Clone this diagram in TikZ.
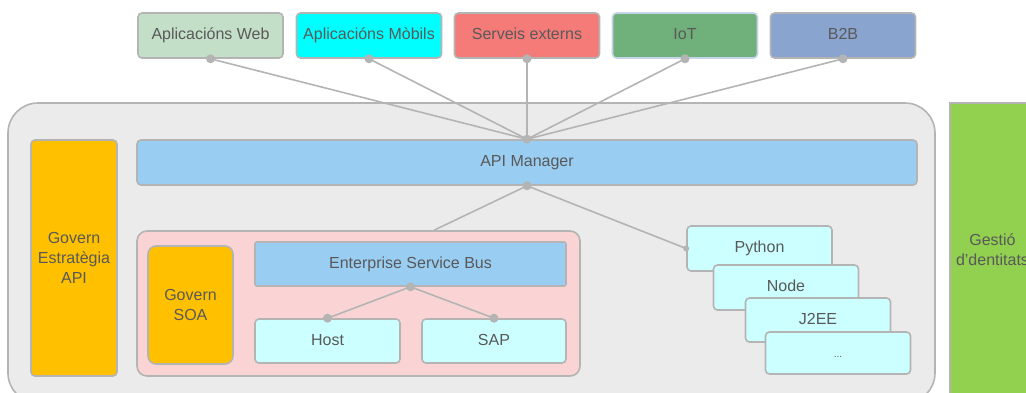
\documentclass[tikz,border=0pt]{standalone}
\usepackage{fontspec}
\setmainfont{Liberation Sans}
\usetikzlibrary{calc}

\definecolor{textgray}{HTML}{595959}
\definecolor{edgegray}{HTML}{B4B4B4}
\definecolor{webgreen}{HTML}{C4DFC8}
\definecolor{mobcyan}{HTML}{00FFFF}
\definecolor{extred}{HTML}{F47B78}
\definecolor{iotgreen}{HTML}{70B07A}
\definecolor{iotedge}{HTML}{C6D4EA}
\definecolor{btwoblue}{HTML}{89A4CE}
\definecolor{apiblue}{HTML}{99CDF2}
\definecolor{platgray}{HTML}{EBEBEB}
\definecolor{soapink}{HTML}{FAD4D4}
\definecolor{govorange}{HTML}{FFC000}
\definecolor{techcyan}{HTML}{CCFFFF}
\definecolor{idgreen}{HTML}{92D050}

\tikzset{
  box/.style={draw=edgegray, line width=1.6pt, rectangle, rounded corners=4pt,
    inner sep=0pt, align=center, text=textgray,
    font=\fontsize{16}{20}\selectfont},
  topbox/.style={box, minimum width=145pt, minimum height=45pt,
    text height=11.5pt, text depth=3.5pt},
  govbox/.style={box, fill=govorange},
  techbox/.style={box, fill=techcyan, minimum width=145pt, minimum height=44pt,
    text height=11.5pt, text depth=3.5pt},
  link/.style={draw=edgegray, line width=1.6pt},
  joint/.style={fill=edgegray},
}

\begin{document}
\begin{tikzpicture}[x=1pt, y=-1pt]
  \useasboundingbox (0,0) rectangle (1026,392);

  % platform and identity column
  \node [box, fill=platgray, rounded corners=30pt, minimum width=927pt, minimum height=300pt] (plat) at (471.5, 253) {};
  \node [box, fill=idgreen, rounded corners=0pt, minimum width=85pt, minimum height=294pt] (ident) at (992.5, 250) {Gestió\\d’dentitats};

  % channels
  \node [topbox, fill=webgreen] (web) at (210.5, 35.5) {Aplicacións Web};
  \node [topbox, fill=mobcyan] (mob) at (369, 35.5) {Aplicacións Mòbils};
  \node [topbox, fill=extred] (ext) at (527, 35.5) {Serveis externs};
  \node [topbox, fill=iotgreen, draw=iotedge] (iot) at (685, 35.5) {IoT};
  \node [topbox, fill=btwoblue] (btwo) at (843, 35.5) {B2B};

  % API layer
  \node [box, fill=apiblue, minimum width=780pt, minimum height=45pt] (api) at (527, 162.5) {API Manager};
  \node [govbox, minimum width=86pt, minimum height=236pt] (govapi) at (74, 258) {Govern\\Estratègia\\API};

  % SOA block
  \node [box, fill=soapink, rounded corners=10pt, minimum width=443pt, minimum height=145pt] (soa) at (358.5, 303.5) {};
  \node [govbox, rounded corners=8pt, minimum width=85pt, minimum height=118pt] (govsoa) at (190.5, 305) {Govern\\SOA};
  \node [box, fill=apiblue, rounded corners=2pt, minimum width=311pt, minimum height=44pt] (esb) at (410.5, 264) {Enterprise Service Bus};
  \node [techbox] (host) at (327.5, 341) {Host};
  \node [techbox, minimum width=144pt] (sap) at (494, 341) {SAP};

  \draw [link] (esb.south) -- (host.north);
  \draw [link] (esb.south) -- (sap.north);
  \fill [joint] (esb.south) circle (4.5pt);
  \fill [joint] (host.north) circle (4.5pt);
  \fill [joint] (sap.north) circle (4.5pt);

  % runtimes
  \node [techbox, minimum height=45pt] (python) at (759.5, 248.5) {Python};
  \node [techbox, minimum height=45pt] (nodejs) at (786, 287.5) {Node};
  \node [techbox] (jee) at (818, 320) {J2EE};
  \node [techbox, minimum height=42pt, font=\fontsize{10}{12}\selectfont] (more) at (838, 353) {...};

  % links to the API Manager
  \draw [link] (api.south) -- ($(soa.north west)!0.67!(soa.north east)$);
  \draw [link] (api.south) -- (python.west);
  \fill [joint] (python.west) circle (3pt);
  \fill [joint] (api.south) circle (4.5pt);

  \draw [link] (web.south) -- (api.north);
  \draw [link] (mob.south) -- (api.north);
  \draw [link] (ext.south) -- (api.north);
  \draw [link] (iot.south) -- (api.north);
  \draw [link] (btwo.south) -- (api.north);
  \fill [joint] (web.south) circle (4.5pt);
  \fill [joint] (mob.south) circle (4.5pt);
  \fill [joint] (ext.south) circle (4.5pt);
  \fill [joint] (iot.south) circle (4.5pt);
  \fill [joint] (btwo.south) circle (4.5pt);
  \fill [joint] (api.north) circle (4.5pt);
\end{tikzpicture}
\end{document}
